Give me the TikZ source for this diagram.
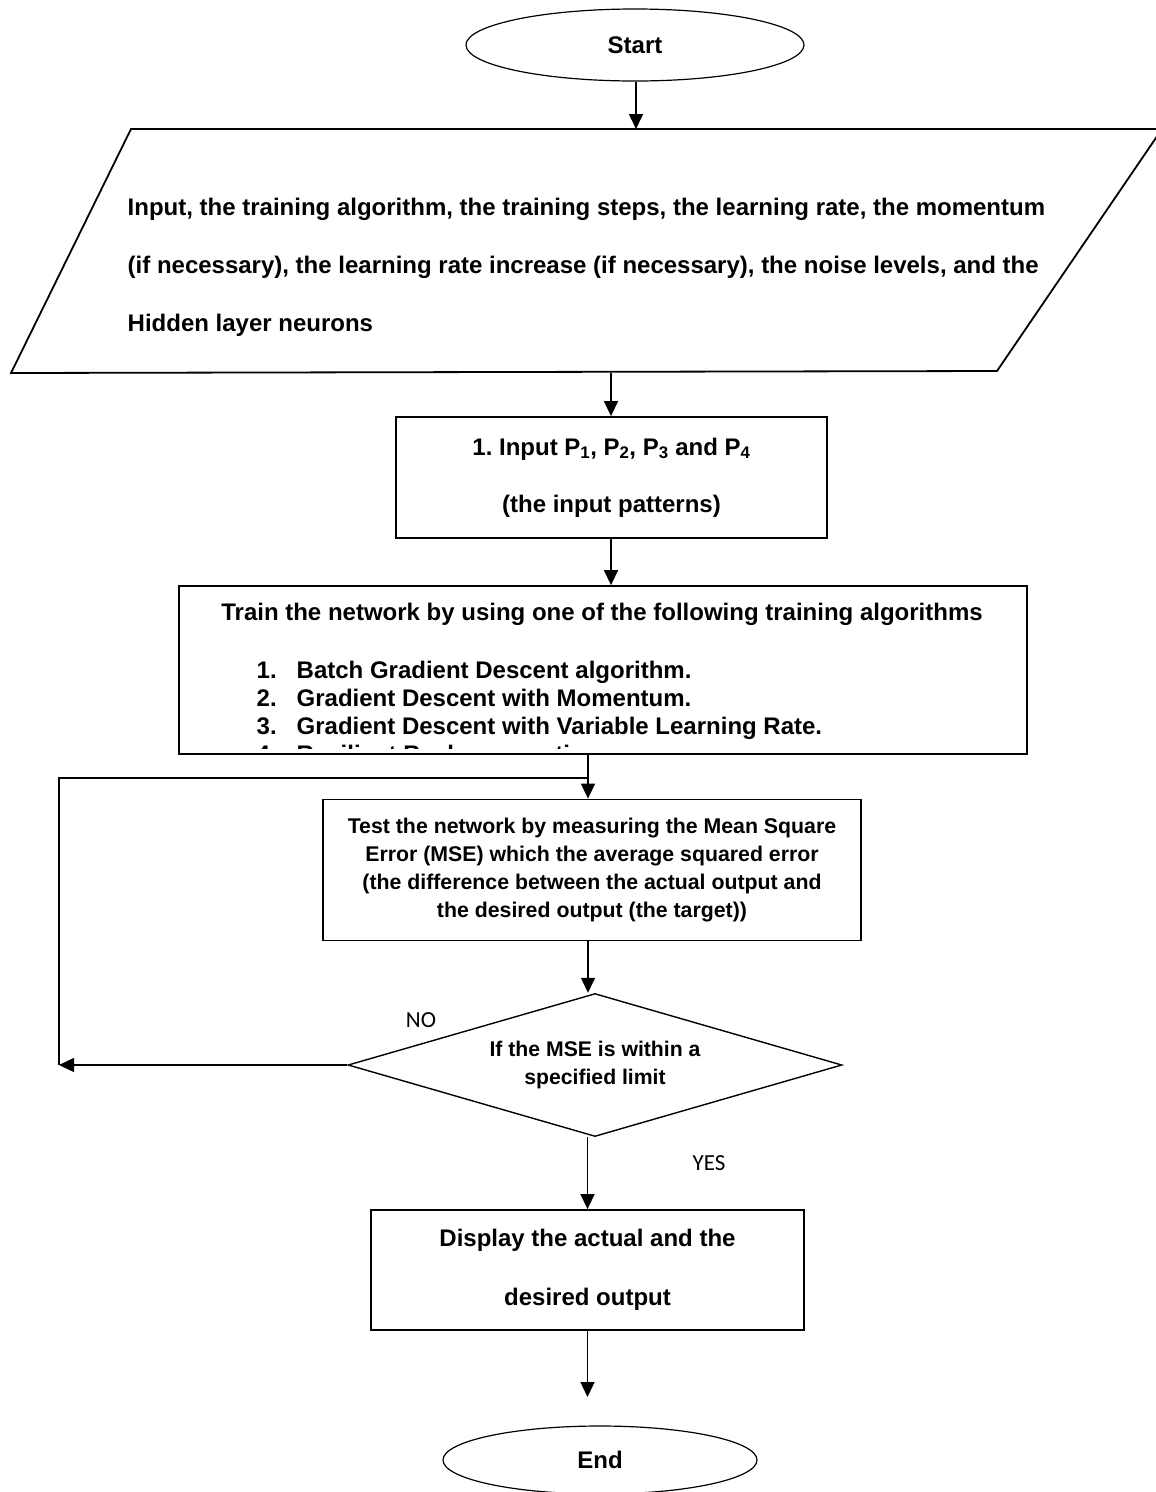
\documentclass[tikz,border=0pt]{standalone}
\usepackage{fontspec}
\setmainfont{Liberation Sans}
\newfontfamily\yesnofont{Carlito}
\usetikzlibrary{shapes.geometric}
\usetikzlibrary{arrows.meta}
\frenchspacing

\begin{document}
\begin{tikzpicture}[x=1pt, y=-1pt, inner sep = 0pt, line width=1.4pt,
  >={Triangle[length=15pt,width=14pt]},
  startstop/.style={ellipse, draw, line width=1.2pt, font=\fontsize{24}{28}\selectfont\bfseries},
  procbox/.style={rectangle, draw, line width=1.8pt, align=center},
  decision/.style={diamond, draw, line width=1.4pt, aspect=3.45, align=center, font=\fontsize{21.2}{28}\selectfont\bfseries},
  itemtext/.style={anchor=base west, font=\fontsize{24}{28}\selectfont\bfseries},
  yesno/.style={font=\fontsize{23}{28}\selectfont\yesnofont}]
  \useasboundingbox (0,0) rectangle (1156,1492);

  \node[startstop, minimum width=338pt, minimum height=72pt] (start) at (635,45) {Start};

  \draw[line width=1.8pt] (131,129) -- (1162,129) -- (997,371) -- (11,373) -- cycle;
  \coordinate (intop) at (636,129);
  \coordinate (inbot) at (611,373);
  \node[anchor=west, align=left, font=\fontsize{24}{58}\selectfont\bfseries] (inputs) at (127,267)
    {Input, the training algorithm, the training steps, the learning rate, the momentum\\
     (if necessary), the learning rate increase (if necessary), the noise levels, and the\\
     Hidden layer neurons};
    \path[->] (start.south -| intop) edge (intop);

  \node[procbox, minimum width=431pt, minimum height=121pt, font=\fontsize{24}{57}\selectfont\bfseries] (patterns) at (611.5,477.5)
    {1. Input P\textsubscript{1}, P\textsubscript{2}, P\textsubscript{3} and P\textsubscript{4}\\(the input patterns)};
    \path[->] (inbot) edge (patterns.north -| inbot);

  \node[procbox, minimum width=848pt, minimum height=168pt] (train) at (603,670) {};
    \path[->] (patterns.south -| inbot) edge (train.north -| inbot);
  \node[anchor=base, font=\fontsize{24}{28}\selectfont\bfseries] (traintitle) at (602,620)
    {Train the network by using one of the following training algorithms};
  \begin{scope}
    \clip (181,588) rectangle (1025,748);
    \node[itemtext] (n1) at (256,678) {1.};
    \node[itemtext] (alg1) at (296,678) {Batch Gradient Descent algorithm.};
    \node[itemtext] (n2) at (256,706) {2.};
    \node[itemtext] (alg2) at (296,706) {Gradient Descent with Momentum.};
    \node[itemtext] (n3) at (256,734) {3.};
    \node[itemtext] (alg3) at (296,734) {Gradient Descent with Variable Learning Rate.};
    \node[itemtext] (n4) at (256,762) {4.};
    \node[itemtext] (alg4) at (296,762) {Resilient Backpropagation.};
  \end{scope}

  \coordinate (loopjoin) at (588,778);
  \coordinate (loopcorner) at (59,778);
  \coordinate (loopend) at (59,1065);

  \node[procbox, minimum width=538pt, minimum height=141pt, font=\fontsize{21.3}{28}\selectfont\bfseries] (mse) at (592,870)
    {Test the network by measuring the Mean Square\\Error (MSE) which the average squared error\\(the difference between the actual output and\\the desired output (the target))};
    \path[->] (train.south -| loopjoin) edge (mse.north -| loopjoin);

  \node[decision, minimum width=494pt, minimum height=143pt] (dec) at (595,1065)
    {If the MSE is within a\\specified limit};
    \path[->] (mse.south -| loopjoin) edge (dec.north -| loopjoin);
    \path[->] (dec.west) edge (loopend);
    \draw (loopend) -- (loopcorner) -- (loopjoin);
  \node[yesno] (nolabel) at (421,1020) {NO};
  \node[yesno] (yeslabel) at (709,1163) {YES};

  \node[procbox, minimum width=433pt, minimum height=120pt, font=\fontsize{24}{59}\selectfont\bfseries] (disp) at (587.5,1270)
    {Display the actual and the\\desired output};
    \path[->] (disp.north |- dec.south) edge (disp.north);

  \coordinate (endtip) at (587.5,1397);
  \node[startstop, minimum width=314pt, minimum height=68pt] (finish) at (600,1460) {End};
    \path[->] (disp.south) edge (endtip);

\end{tikzpicture}
\end{document}
